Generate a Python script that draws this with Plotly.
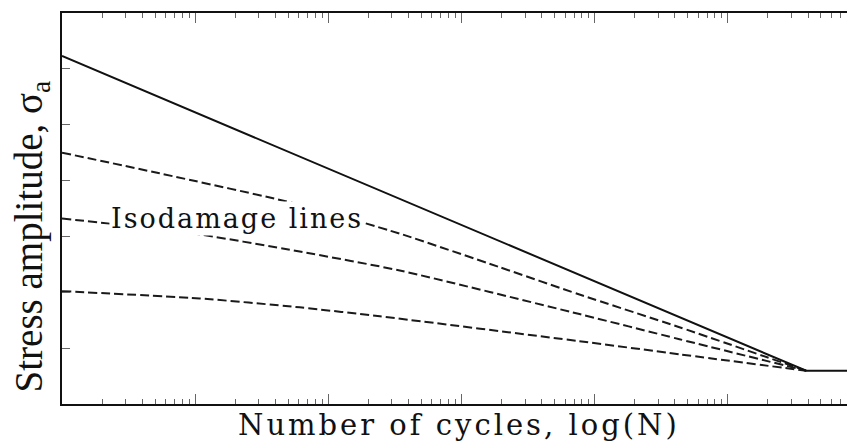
import math
import plotly.graph_objects as go

# ---- data ----
# S-N curve (solid): cycles N and stress amplitude (arbitrary units)
sn_cycles = [1, 388000, 901000]
sn_stress = [6.23, 0.595, 0.595]

# Isodamage lines (dashed)
iso1_cycles = [1, 5.4, 61, 344, 1930, 7690, 43300, 388000]
iso1_stress = [4.50, 4.13, 3.57, 3.05, 2.45, 1.96, 1.375, 0.595]

iso2_cycles = [1, 8.7, 61, 344, 7690, 43300, 388000]
iso2_stress = [3.32, 3.07, 2.73, 2.39, 1.61, 1.16, 0.595]

iso3_cycles = [1, 10.8, 61, 244, 7690, 43300, 388000]
iso3_stress = [2.02, 1.89, 1.73, 1.57, 1.125, 0.89, 0.595]

y_ticks = [0, 1, 2, 3, 4, 5, 6, 7]

label_text = "Isodamage lines"
label_cycles = 20.6
label_stress = 3.32

x_title = "Number of cycles, log(N)"
y_title = "Stress amplitude, σ<sub>a</sub>"

fig = go.Figure()

dash_style = "9px,4px"
for cx, sy in [(iso1_cycles, iso1_stress), (iso2_cycles, iso2_stress), (iso3_cycles, iso3_stress)]:
    fig.add_trace(go.Scatter(
        x=cx, y=sy, mode="lines",
        line=dict(color="#1a1a1a", width=2, dash=dash_style, shape="spline", smoothing=0.6),
        showlegend=False, hoverinfo="skip",
    ))

fig.add_trace(go.Scatter(
    x=sn_cycles, y=sn_stress, mode="lines",
    line=dict(color="#111111", width=2),
    showlegend=False, hoverinfo="skip",
))

# annotation positions on a log axis are given in log10 units
fig.add_annotation(
    x=math.log10(label_cycles), y=label_stress, xref="x", yref="y",
    text='<span style="letter-spacing:2px">' + label_text + '</span>',
    showarrow=False,
    font=dict(family="DejaVu Serif", size=27, color="#111111"),
    bgcolor="white", borderpad=1,
    xanchor="center", yanchor="middle",
)

fig.add_annotation(
    x=0.5, y=0, xref="paper", yref="paper",
    text='<span style="letter-spacing:3px">' + x_title + '</span>',
    showarrow=False,
    font=dict(family="DejaVu Serif", size=29, color="#111111"),
    xanchor="center", yanchor="middle", yshift=-21,
)

fig.add_annotation(
    x=0, y=3.0, xref="paper", yref="y",
    text=y_title, showarrow=False, textangle=-90,
    font=dict(family="Liberation Serif", size=39, color="#111111"),
    xanchor="center", yanchor="middle", xshift=-31,
)

fig.update_xaxes(
    type="log", range=[0, 5.955],
    showgrid=False, zeroline=False,
    showline=True, linecolor="#111111", linewidth=2, mirror="ticks",
    ticks="inside", ticklen=10, tickwidth=1, tickcolor="#666666",
    dtick=1, showticklabels=False,
    minor=dict(ticks="inside", ticklen=5, tickwidth=1, tickcolor="#666666", dtick="D1", showgrid=False),
)
fig.update_yaxes(
    range=[0, 7],
    showgrid=False, zeroline=False,
    showline=True, linecolor="#111111", linewidth=2, mirror=False,
    ticks="inside", ticklen=8, tickwidth=1, tickcolor="#666666",
    tickvals=y_ticks, showticklabels=False,
)

# the page body has an 8px margin, so the figure is sized to fit the window
fig.update_layout(
    width=847, height=433,
    margin=dict(l=54, r=0, t=5, b=37),
    paper_bgcolor="white", plot_bgcolor="white",
)

fig.write_html("out.html")
